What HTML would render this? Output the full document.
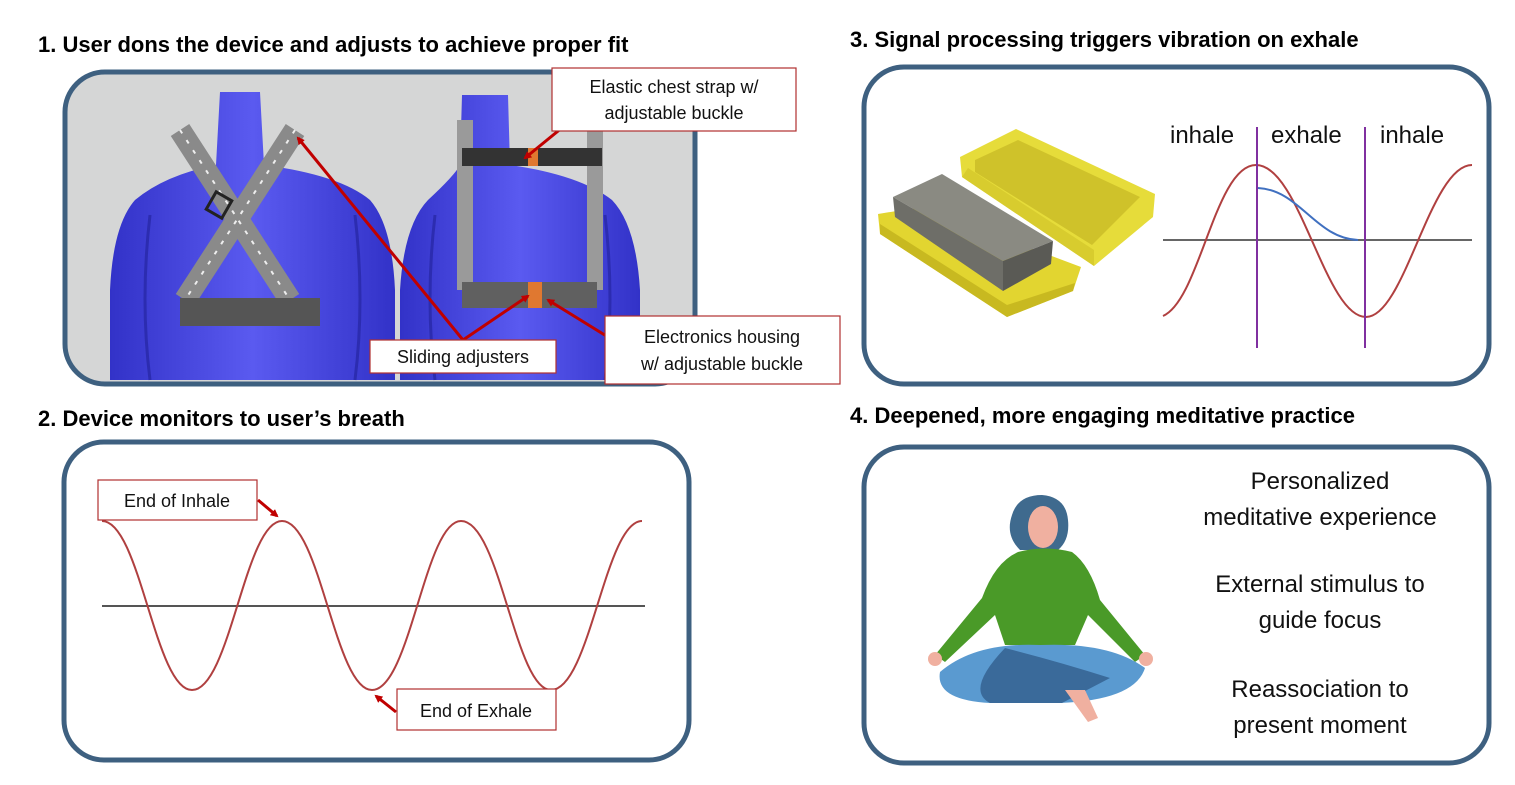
<!DOCTYPE html>
<html><head><meta charset="utf-8"><style>
body{margin:0;width:1515px;height:780px;background:#fff;overflow:hidden;font-family:"Liberation Sans",sans-serif;}
</style></head><body>
<svg width="1515" height="780" viewBox="0 0 1515 780" xmlns="http://www.w3.org/2000/svg" font-family="Liberation Sans, sans-serif">
<defs>
<marker id="ar" markerWidth="8" markerHeight="8" refX="6" refY="4" orient="auto" markerUnits="userSpaceOnUse"><path d="M0,0 L8,4 L0,8z" fill="#c00000"/></marker>
<linearGradient id="bl" x1="0" x2="1"><stop offset="0" stop-color="#3232c8"/><stop offset=".5" stop-color="#5a5af0"/><stop offset="1" stop-color="#3232c8"/></linearGradient>
<clipPath id="c1"><rect x="65" y="72" width="630" height="312" rx="40"/></clipPath>
</defs>
<g font-weight="bold" font-size="22" fill="#000">
<text x="38" y="52">1. User dons the device and adjusts to achieve proper fit</text>
<text x="850" y="47">3. Signal processing triggers vibration on exhale</text>
<text x="38" y="426">2. Device monitors to user’s breath</text>
<text x="850" y="423">4. Deepened, more engaging meditative practice</text>
</g>
<!-- panel 1 -->
<rect x="65" y="72" width="630" height="312" rx="40" fill="#d5d6d6"/>
<g clip-path="url(#c1)">
<!-- left mannequin -->
<path d="M220,92 L260,92 L264,165 Q340,175 370,200 Q392,225 395,290 L395,380 L110,380 L110,290 Q113,225 135,200 Q165,175 216,165z" fill="url(#bl)"/>
<path d="M150,215 Q140,300 150,380 M355,215 Q365,300 355,380" stroke="#2c2cb0" stroke-width="3" fill="none"/>
<path d="M180,130 L290,300 M295,130 L185,300" stroke="#8a8a8a" stroke-width="22"/>
<path d="M180,130 L290,300 M295,130 L185,300" stroke="#eee" stroke-width="2" stroke-dasharray="4 8"/>
<rect x="180" y="298" width="140" height="28" fill="#555"/>
<rect x="210" y="195" width="18" height="20" fill="none" stroke="#222" stroke-width="3" transform="rotate(30 219 205)"/>
<!-- right mannequin -->
<path d="M462,95 L508,95 L510,165 Q580,175 612,200 Q636,225 640,290 L640,380 L400,380 L400,290 Q404,225 428,200 Q455,175 460,165z" fill="url(#bl)"/>
<path d="M435,215 Q425,300 435,380 M605,215 Q615,300 605,380" stroke="#2c2cb0" stroke-width="3" fill="none"/>
<path d="M465,120 L465,290 M595,120 L595,290" stroke="#9a9a9a" stroke-width="16"/>
<rect x="462" y="148" width="140" height="18" fill="#333"/>
<rect x="462" y="282" width="135" height="26" fill="#606060"/>
<rect x="528" y="282" width="14" height="26" fill="#e07830"/>
<rect x="528" y="148" width="10" height="18" fill="#e07830"/>
</g>
<rect x="65" y="72" width="630" height="312" rx="40" fill="none" stroke="#3e6080" stroke-width="5"/>
<g stroke="#c00000" stroke-width="3" fill="none" marker-end="url(#ar)">
<line x1="463" y1="340" x2="298" y2="138"/>
<line x1="463" y1="340" x2="528" y2="296"/>
<line x1="608" y1="337" x2="548" y2="300"/>
<line x1="574" y1="118" x2="525" y2="158"/>
</g>
<g fill="#fff" stroke="#b03030" stroke-width="1.2">
<rect x="552" y="68" width="244" height="63"/>
<rect x="370" y="340" width="186" height="33"/>
<rect x="605" y="316" width="235" height="68"/>
</g>
<g font-size="18" fill="#111" text-anchor="middle">
<text x="674" y="93">Elastic chest strap w/</text>
<text x="674" y="119">adjustable buckle</text>
<text x="463" y="363">Sliding adjusters</text>
<text x="722" y="343">Electronics housing</text>
<text x="722" y="370">w/ adjustable buckle</text>
</g>
<!-- panel 3 -->
<rect x="864" y="67" width="625" height="317" rx="40" fill="#fff" stroke="#3e6080" stroke-width="5"/>
<!-- lid -->
<polygon points="960,157 1016,129 1155,194 1153,217 1094,266 962,177" fill="#e6dc3a"/>
<polygon points="975,160 1018,140 1140,197 1092,245 975,172" fill="#cfc22a"/>
<polygon points="962,177 1094,266 1094,250 968,168" fill="#d8cc2e"/>
<!-- tray -->
<polygon points="878,214 921,207 1081,267 1073,291 1007,317 880,234" fill="#e2d530"/>
<polygon points="880,234 1007,317 1073,291 1075,283 1007,305 880,224" fill="#c8b920"/>
<!-- gray box -->
<polygon points="893,197 942,174 1053,241 1003,261" fill="#8a8a82"/>
<polygon points="893,197 1003,261 1003,291 895,217" fill="#6e6e68"/>
<polygon points="1003,261 1053,241 1051,264 1003,291" fill="#5a5a55"/>
<g font-size="24" fill="#111">
<text x="1170" y="143">inhale</text><text x="1271" y="143">exhale</text><text x="1380" y="143">inhale</text>
</g>
<line x1="1163" y1="240" x2="1472" y2="240" stroke="#666" stroke-width="2"/>
<path d="M1163,316 C1200,300 1215,165 1256,165 C1300,165 1325,317 1366,317 C1405,317 1430,165 1472,165" fill="none" stroke="#b04040" stroke-width="2"/>
<path d="M1258,188 C1300,190 1315,238 1358,240" fill="none" stroke="#4070c0" stroke-width="2"/>
<line x1="1257" y1="127" x2="1257" y2="348" stroke="#8030a0" stroke-width="2"/>
<line x1="1365" y1="127" x2="1365" y2="348" stroke="#8030a0" stroke-width="2"/>
<!-- panel 2 -->
<rect x="64" y="442" width="625" height="318" rx="40" fill="#fff" stroke="#3e6080" stroke-width="5"/>
<line x1="102" y1="606" x2="645" y2="606" stroke="#555" stroke-width="2"/>
<path d="M102,521 C140,521 155,690 192,690 C230,690 245,521 282,521 C320,521 335,690 372,690 C410,690 425,521 461,521 C500,521 515,690 551,690 C590,690 605,521 642,521" fill="none" stroke="#b04040" stroke-width="2"/>
<g stroke="#c00000" stroke-width="3" marker-end="url(#ar)">
<line x1="258" y1="500" x2="277" y2="516"/>
<line x1="396" y1="712" x2="376" y2="696"/>
</g>
<g fill="#fff" stroke="#b03030" stroke-width="1.2">
<rect x="98" y="480" width="159" height="40"/>
<rect x="397" y="689" width="159" height="41"/>
</g>
<g font-size="18" fill="#111" text-anchor="middle">
<text x="177" y="507">End of Inhale</text>
<text x="476" y="717">End of Exhale</text>
</g>
<!-- panel 4 -->
<rect x="864" y="447" width="625" height="316" rx="40" fill="#fff" stroke="#3e6080" stroke-width="5"/>
<path d="M1012,515 Q1018,495 1042,495 Q1066,497 1068,520 Q1070,540 1058,550 L1020,550 Q1005,535 1012,515z" fill="#3f6a8e"/>
<ellipse cx="1043" cy="527" rx="15" ry="21" fill="#f0b0a0"/>
<path d="M1018,552 Q1045,545 1072,552 Q1090,565 1100,600 L1145,655 L1135,662 L1088,615 L1075,645 L1005,645 L995,615 L945,662 L935,655 L982,598 Q995,562 1018,552z" fill="#4a9a28"/>
<path d="M940,672 Q975,642 1040,645 Q1110,642 1145,668 Q1135,700 1060,703 L990,703 Q935,700 940,672z" fill="#5a9ad0"/>
<path d="M1005,648 Q1060,662 1110,678 L1062,703 L990,703 Q965,690 1005,648z" fill="#3a6a9a"/>
<path d="M1065,690 L1085,690 L1098,718 L1088,722z" fill="#f0b0a0"/>
<circle cx="935" cy="659" r="7" fill="#f0b0a0"/><circle cx="1146" cy="659" r="7" fill="#f0b0a0"/>
<g font-size="24" fill="#111" text-anchor="middle">
<text x="1320" y="489">Personalized</text>
<text x="1320" y="525">meditative experience</text>
<text x="1320" y="592">External stimulus to</text>
<text x="1320" y="628">guide focus</text>
<text x="1320" y="697">Reassociation to</text>
<text x="1320" y="733">present moment</text>
</g>
</svg>
</body></html>
